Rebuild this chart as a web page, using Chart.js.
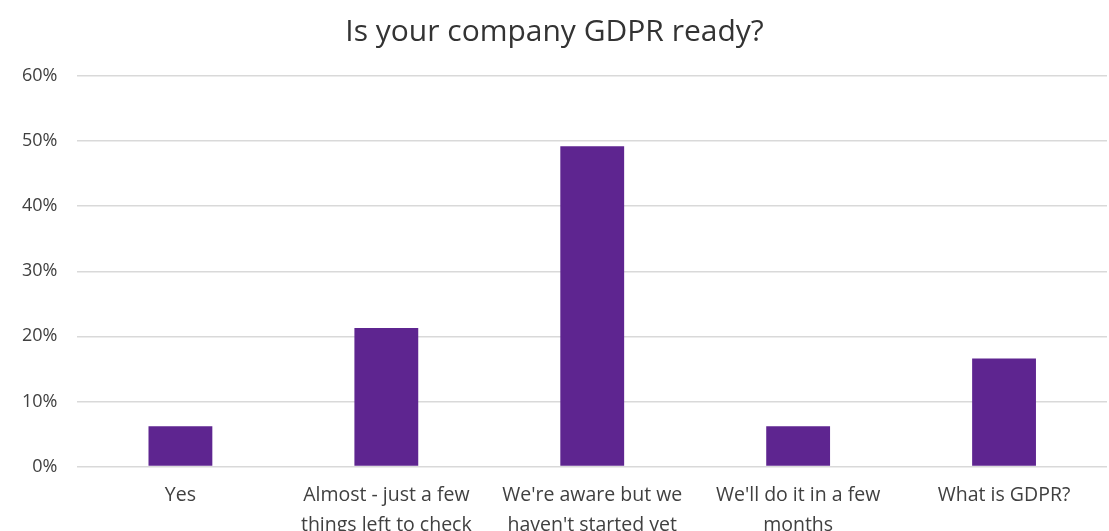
<!DOCTYPE html>
<html>
<head>
<meta charset="utf-8">
<script src="https://cdn.jsdelivr.net/npm/chart.js@4"></script>
<style>
html,body{margin:0;padding:0;background:#fff;overflow:hidden;}
#wrap{width:1109px;height:547px;position:relative;}
</style>
</head>
<body>
<div id="wrap"><canvas id="gdpr"></canvas></div>
<script>
const categories=[
 'Yes',
 ['Almost - just a few','things left to check'],
 ["We're aware but we","haven't started yet"],
 ["We'll do it in a few",'months'],
 'What is GDPR?'
];
const shares=[6.2,21.3,49.2,6.2,16.6];
const yTicks=[0,10,20,30,40,50,60];

const fontFam="'Open Sans', 'Liberation Sans', sans-serif";
new Chart(document.getElementById('gdpr'),{
 type:'bar',
 data:{labels:categories,datasets:[{data:shares,backgroundColor:'#5e2590',borderWidth:0,categoryPercentage:1,barPercentage:0.31}]},
 options:{
  responsive:true,maintainAspectRatio:false,animation:false,
  layout:{padding:{left:2,right:2,top:0,bottom:0}},
  plugins:{
   legend:{display:false},tooltip:{enabled:false},
   title:{display:true,text:'Is your company GDPR ready?',color:'#333333',font:{family:fontFam,size:30,weight:'normal'},padding:{top:14,bottom:26}}
  },
  scales:{
   x:{grid:{display:false},border:{display:false},
      ticks:{color:'#404040',font:{family:fontFam,size:19.5,lineHeight:1.55},padding:6,maxRotation:0,autoSkip:false}},
   y:{min:0,max:60,afterBuildTicks:ax=>{ax.ticks=yTicks.map(v=>({value:v}));},
      grid:{color:'#d9d9d9',lineWidth:1.5,drawTicks:false},border:{display:false},
      ticks:{color:'#404040',font:{family:fontFam,size:18},padding:20,callback:v=>v+'%'}}
  }
 }
});
</script>
</body>
</html>
